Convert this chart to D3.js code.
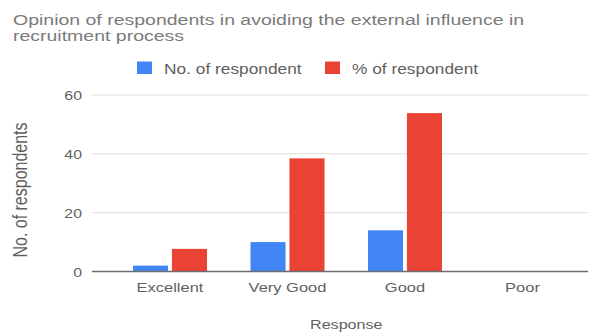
<!DOCTYPE html>
<html>
<head>
<meta charset="utf-8">
<script src="https://cdn.jsdelivr.net/npm/d3@7"></script>
<style>
  html, body { margin: 0; padding: 0; background: #fff; }
  svg { display: block; font-family: "Liberation Sans", Arial, sans-serif; }
</style>
</head>
<body>
<svg id="chart" width="590" height="334"></svg>
<script>
// Survey responses: count of respondents and their share of the total
const categories = ["Excellent", "Very Good", "Good", "Poor"];
const respondents = [2, 10, 14, 0];
const percentRespondents = [7.69, 38.46, 53.85, 0];
const seriesNames = ["No. of respondent", "% of respondent"];
const yTicks = [0, 20, 40, 60];
const titleLines = ["Opinion of respondents in avoiding the external influence in", "recruitment process"];

const colors = ["#4285f4", "#ea4335"];
const SX = 1.22; // horizontal text width factor used throughout the layout

const svg = d3.select("#chart");

const plot = { left: 92, right: 588, top: 95, bottom: 271.5 };

const x = d3.scaleBand()
  .domain(categories)
  .range([111.25, 581.25])
  .paddingInner(0.37)
  .paddingOuter(0.185);

const xInner = d3.scaleBand()
  .domain(seriesNames)
  .range([0, x.bandwidth()])
  .paddingInner(0.1);

const y = d3.scaleLinear().domain([0, 60]).range([plot.bottom, plot.top]);

// helper: text with horizontal width factor
function label(g, str, px, py, opts) {
  return g.append("text")
    .attr("transform", `translate(${px},${py}) scale(${opts.sx || SX},1)` + (opts.rotate ? ` rotate(${opts.rotate})` : ""))
    .attr("text-anchor", opts.anchor || "start")
    .attr("font-size", opts.size)
    .attr("fill", opts.fill || "#5f5f5f")
    .text(str);
}

// Title (two lines)
const titleG = svg.append("g");
titleLines.forEach((line, i) => {
  label(titleG, line, 13, 25 + i * 16, { size: 15, sx: 1.3, fill: "#7a7a7a" });
});

// Legend
const legend = svg.append("g");
const legendX = [137, 325];
seriesNames.forEach((name, i) => {
  legend.append("rect")
    .attr("x", legendX[i]).attr("y", 61.5)
    .attr("width", 15).attr("height", 12.5)
    .attr("fill", colors[i]);
  label(legend, name, legendX[i] + 27, 74, { size: 14.2, fill: "#5f5f5f" });
});

// Gridlines
svg.append("g").selectAll("line")
  .data(yTicks.filter(d => d !== 0))
  .join("line")
  .attr("x1", plot.left).attr("x2", plot.right)
  .attr("y1", d => y(d)).attr("y2", d => y(d))
  .attr("stroke", "#dcdcdc").attr("stroke-width", 1);

// Y axis tick labels
const yAxis = svg.append("g").attr("transform", `translate(${plot.left},0)`)
  .call(d3.axisLeft(y).tickValues(yTicks).tickSize(0).tickFormat(d3.format("d")));
yAxis.select(".domain").remove();
yAxis.selectAll(".tick text")
  .attr("x", null)
  .attr("dy", "0.36em")
  .attr("text-anchor", "end")
  .attr("font-size", 13)
  .attr("font-family", "Liberation Sans, Arial, sans-serif")
  .attr("fill", "#5f5f5f")
  .attr("transform", `translate(-10,0) scale(${SX},1)`);

// Bars
const series = [respondents, percentRespondents];
const groups = svg.append("g").selectAll("g")
  .data(categories)
  .join("g")
  .attr("transform", d => `translate(${x(d)},0)`);

groups.selectAll("rect")
  .data((d, i) => seriesNames.map((s, k) => ({ s, v: series[k][i], k })))
  .join("rect")
  .attr("x", d => xInner(d.s))
  .attr("width", xInner.bandwidth())
  .attr("y", d => y(d.v))
  .attr("height", d => y(0) - y(d.v))
  .attr("fill", d => colors[d.k]);

// Baseline
svg.append("line")
  .attr("x1", plot.left).attr("x2", plot.right)
  .attr("y1", y(0)).attr("y2", y(0))
  .attr("stroke", "#6e6e6e").attr("stroke-width", 1.5);

// X axis category labels
const xAxis = svg.append("g").attr("transform", `translate(0,${y(0)})`)
  .call(d3.axisBottom(x).tickSize(0).tickPadding(0));
xAxis.select(".domain").remove();
xAxis.selectAll(".tick text")
  .attr("y", null).attr("dy", null)
  .attr("font-size", 13.5)
  .attr("font-family", "Liberation Sans, Arial, sans-serif")
  .attr("fill", "#5f5f5f")
  .attr("transform", `translate(0,20.5) scale(${SX},1)`);

// Axis titles
const xCenter = (x.range()[0] + x.range()[1]) / 2;
label(svg, "Response", xCenter, 329, { size: 13.2, anchor: "middle" });
label(svg, "No. of respondents", 27, 190, { size: 16, anchor: "middle", rotate: -90 });
</script>
</body>
</html>
